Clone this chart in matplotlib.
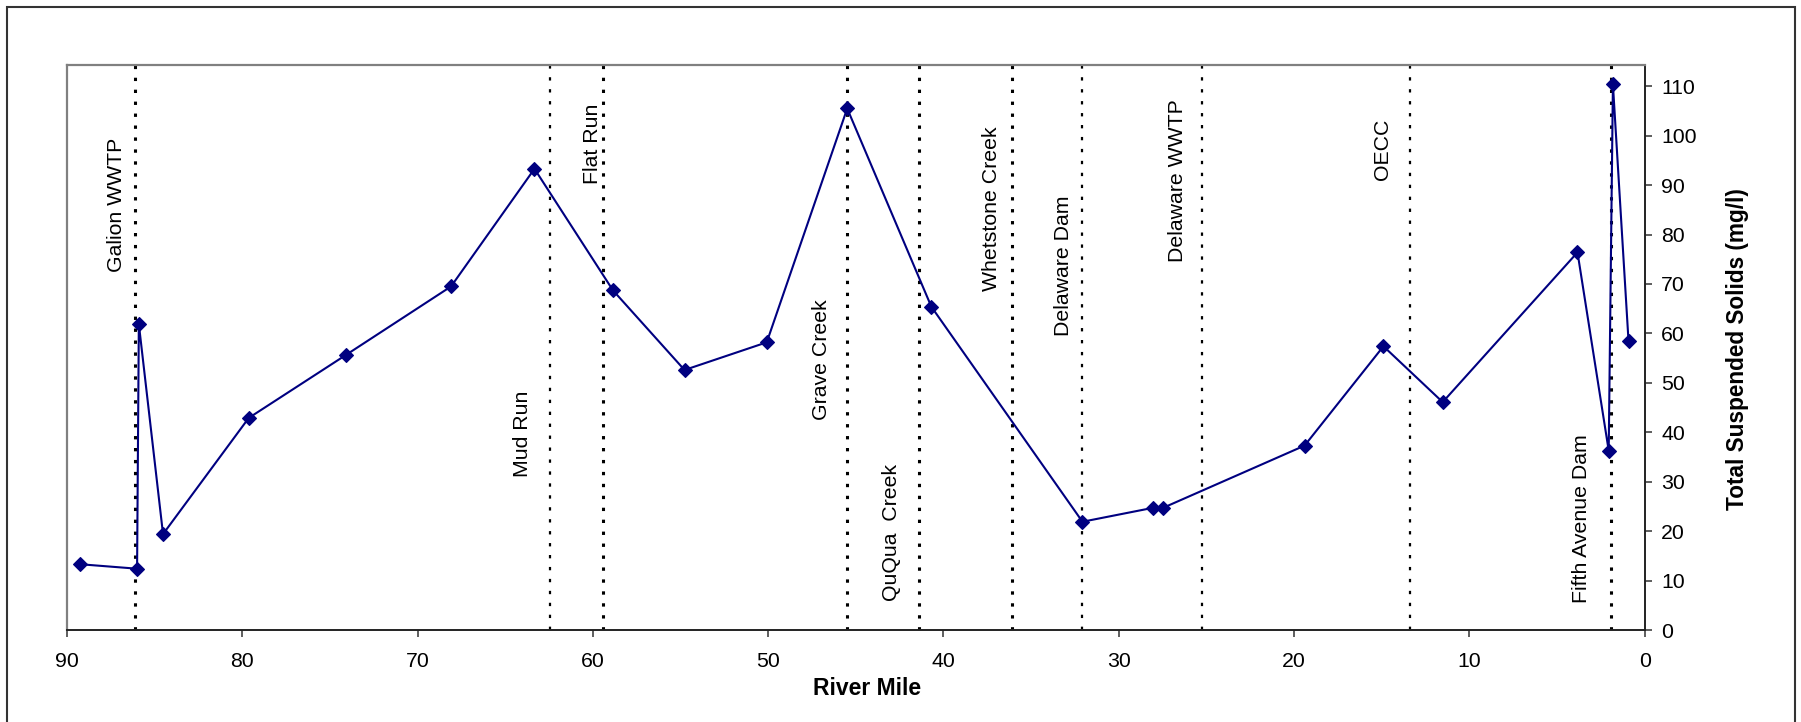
import matplotlib
matplotlib.use('Agg')
import matplotlib.pyplot as plt
from matplotlib.patches import Rectangle

plt.rcParams['font.family'] = ['Liberation Sans', 'DejaVu Sans']
plt.rcParams['lines.scale_dashes'] = False

# River mile vs total suspended solids
river_mile = [89.23, 86.0, 85.9, 84.52, 79.63, 74.06, 68.09, 63.33, 58.85, 54.77,
              50.08, 45.49, 40.69, 32.07, 28.07, 27.48, 19.4, 14.9, 11.52, 3.83,
              2.05, 1.81, 0.92]
tss = [13.3, 12.4, 61.9, 19.4, 42.9, 55.7, 69.5, 93.3, 68.7, 52.6,
       58.2, 105.5, 65.4, 21.9, 24.7, 24.7, 37.3, 57.4, 46.1, 76.4,
       36.3, 110.4, 58.5]

# landmarks along the river
landmarks = ['Galion WWTP', 'Mud Run', 'Flat Run', 'Grave Creek', 'QuQua  Creek',
             'Whetstone Creek', 'Delaware Dam', 'Delaware WWTP', 'OECC',
             'Fifth Avenue Dam']
landmark_mile = [86.1, 62.44, 59.41, 45.49, 41.37, 36.11, 32.07, 25.25, 13.4, 1.9]
major = [True, False, True, True, True, True, False, False, False, True]

# where each landmark label sits (mile, mg/l at start of text)
label_x = [87.2, 64.0, 60.0, 46.98, 42.98, 37.24, 33.16, 26.65, 14.93, 3.6]
label_y = [72.5, 31.0, 90.2, 42.5, 5.9, 68.5, 59.4, 74.5, 91.1, 5.4]

x_ticks = list(range(0, 91, 10))
y_ticks = list(range(0, 111, 10))

fig = plt.figure(figsize=(18.01, 7.22), dpi=100)
ax = fig.add_axes([0.03718, 0.12742, 0.8760, 0.78324])

for m, big in zip(landmark_mile, major):
    if big:
        ax.axvline(m, color='black', lw=2.2, linestyle=(0, (2.4, 6.2)), zorder=1)
    else:
        ax.axvline(m, color='black', lw=1.6, linestyle=(0, (2.4, 6.2)), zorder=1)

for name, lx, ly in zip(landmarks, label_x, label_y):
    ax.text(lx, ly, name, rotation=90, ha='center', va='bottom', fontsize=15.3,
            zorder=2)

ax.plot(river_mile, tss, color='#000080', lw=1.5, marker='D', ms=7.4,
        mfc='#000080', mec='#000080', mew=0.8, zorder=3, clip_on=False)

ax.set_xlim(90, 0)
ax.set_ylim(0, 114.4)
ax.set_xticks(x_ticks)
ax.set_yticks(y_ticks)
ax.yaxis.tick_right()
ax.tick_params(axis='both', direction='out', length=5, width=1.1,
               colors='#333333', labelcolor='black', labelsize=15.3)
ax.tick_params(axis='x', pad=11)
ax.tick_params(axis='y', pad=7)

for side in ['top', 'left']:
    ax.spines[side].set_color('#808080')
    ax.spines[side].set_linewidth(1.6)
for side in ['bottom', 'right']:
    ax.spines[side].set_color('#222222')
    ax.spines[side].set_linewidth(1.4)

fig.text(0.4814, 0.0374, 'River Mile', ha='center', va='baseline',
         fontsize=16.5, fontweight='bold')
fig.text(0.9645, 0.5166, 'Total Suspended Solids (mg/l)', rotation=90,
         ha='center', va='center', fontsize=16.3, fontweight='bold')

# outer chart border
fig.patches.append(Rectangle((7 / 1801, -0.02), (1795 - 7) / 1801, 1.02 - 7 / 722,
                             transform=fig.transFigure, fill=False,
                             edgecolor='#333333', lw=1.5))

fig.savefig('out.png', dpi=100)
